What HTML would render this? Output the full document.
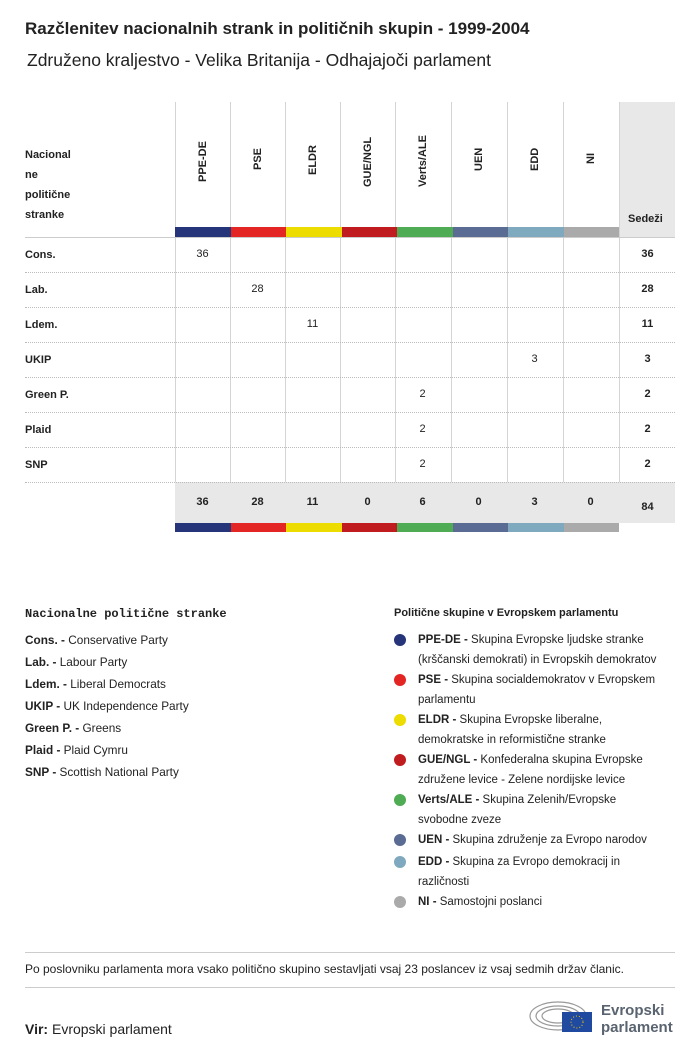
<!DOCTYPE html><html><head><meta charset="utf-8"><style>
body{margin:0;width:700px;height:1055px;background:#fff;font-family:"Liberation Sans",sans-serif;color:#222;position:relative;overflow:hidden}
.a{position:absolute}
.b{font-weight:bold}
.vl{position:absolute;width:1px;background:#d4d4d4}
.hl{position:absolute;height:0;border-top:1px dotted #bbb;left:25px;width:650px}
.rot{position:absolute;transform:rotate(-90deg);transform-origin:left top;font-size:11px;font-weight:bold;white-space:nowrap}
.c{position:absolute;width:55px;text-align:center;font-size:11px}
.dot{position:absolute;width:12px;height:12px;border-radius:50%;left:394px}
.lg{position:absolute;left:418px;font-size:11.5px;line-height:20px;white-space:nowrap}
.np{position:absolute;left:25px;font-size:11.8px}
</style></head><body>
<div class="a b" style="left:25px;top:19px;font-size:17px">Razčlenitev nacionalnih strank in političnih skupin - 1999-2004</div>
<div class="a" style="left:27px;top:50px;font-size:17.5px">Združeno kraljestvo - Velika Britanija - Odhajajoči parlament</div>
<div class="a" style="left:619px;top:102px;width:56px;height:135px;background:#e8e8e8"></div>
<div class="a" style="left:175px;top:482px;width:500px;height:41px;background:#e8e8e8"></div>
<div class="vl" style="left:175px;top:102px;height:380px"></div>
<div class="vl" style="left:230px;top:102px;height:380px"></div>
<div class="vl" style="left:285px;top:102px;height:380px"></div>
<div class="vl" style="left:340px;top:102px;height:380px"></div>
<div class="vl" style="left:395px;top:102px;height:380px"></div>
<div class="vl" style="left:451px;top:102px;height:380px"></div>
<div class="vl" style="left:507px;top:102px;height:380px"></div>
<div class="vl" style="left:563px;top:102px;height:380px"></div>
<div class="vl" style="left:619px;top:102px;height:380px"></div>
<div class="a b" style="left:25px;top:145px;font-size:11px;line-height:20px">Nacional<br>ne<br>politične<br>stranke</div>
<div class="a b" style="left:628px;top:213px;font-size:11px">Sedeži</div>
<div class="rot" style="left:197px;top:182px">PPE-DE</div>
<div class="rot" style="left:252px;top:170px">PSE</div>
<div class="rot" style="left:307px;top:175px">ELDR</div>
<div class="rot" style="left:362px;top:187px">GUE/NGL</div>
<div class="rot" style="left:417px;top:187px">Verts/ALE</div>
<div class="rot" style="left:473px;top:171px">UEN</div>
<div class="rot" style="left:529px;top:171px">EDD</div>
<div class="rot" style="left:585px;top:164px">NI</div>
<div class="a" style="left:175px;top:227px;width:444px;height:10px;display:flex">
<div style="flex:1;background:#263479"></div><div style="flex:1;background:#e32524"></div><div style="flex:1;background:#ecdc00"></div><div style="flex:1;background:#c01b1f"></div><div style="flex:1;background:#4fac55"></div><div style="flex:1;background:#5a6b94"></div><div style="flex:1;background:#7fa9be"></div><div style="flex:1;background:#aaa"></div></div>
<div class="a" style="left:175px;top:523px;width:444px;height:9px;display:flex">
<div style="flex:1;background:#263479"></div><div style="flex:1;background:#e32524"></div><div style="flex:1;background:#ecdc00"></div><div style="flex:1;background:#c01b1f"></div><div style="flex:1;background:#4fac55"></div><div style="flex:1;background:#5a6b94"></div><div style="flex:1;background:#7fa9be"></div><div style="flex:1;background:#aaa"></div></div>
<div class="a" style="left:25px;top:237px;width:650px;border-top:1px solid #ccc"></div>
<div class="hl" style="top:272px"></div><div class="hl" style="top:307px"></div><div class="hl" style="top:342px"></div><div class="hl" style="top:377px"></div><div class="hl" style="top:412px"></div><div class="hl" style="top:447px"></div><div class="hl" style="top:482px"></div>
<div class="a b" style="left:25px;top:248px;font-size:11px;line-height:35px;margin-top:-10px">Cons.<br>Lab.<br>Ldem.<br>UKIP<br>Green P.<br>Plaid<br>SNP</div>
<div class="c" style="left:175px;top:248px">36</div>
<div class="c" style="left:230px;top:283px">28</div>
<div class="c" style="left:285px;top:318px">11</div>
<div class="c" style="left:507px;top:353px">3</div>
<div class="c" style="left:395px;top:388px">2</div>
<div class="c" style="left:395px;top:423px">2</div>
<div class="c" style="left:395px;top:458px">2</div>
<div class="c b" style="left:620px;top:248px">36</div>
<div class="c b" style="left:620px;top:283px">28</div>
<div class="c b" style="left:620px;top:318px">11</div>
<div class="c b" style="left:620px;top:353px">3</div>
<div class="c b" style="left:620px;top:388px">2</div>
<div class="c b" style="left:620px;top:423px">2</div>
<div class="c b" style="left:620px;top:458px">2</div>
<div class="c b" style="left:175px;top:496px">36</div><div class="c b" style="left:230px;top:496px">28</div><div class="c b" style="left:285px;top:496px">11</div><div class="c b" style="left:340px;top:496px">0</div><div class="c b" style="left:395px;top:496px">6</div><div class="c b" style="left:451px;top:496px">0</div><div class="c b" style="left:507px;top:496px">3</div><div class="c b" style="left:563px;top:496px">0</div>
<div class="c b" style="left:620px;top:501px">84</div>
<div class="a b" style="left:25px;top:607px;font-size:12px;font-family:'Liberation Mono',monospace">Nacionalne politične stranke</div>
<div class="np" style="top:633px"><b>Cons. -</b> Conservative Party</div>
<div class="np" style="top:655px"><b>Lab. -</b> Labour Party</div>
<div class="np" style="top:677px"><b>Ldem. -</b> Liberal Democrats</div>
<div class="np" style="top:699px"><b>UKIP -</b> UK Independence Party</div>
<div class="np" style="top:721px"><b>Green P. -</b> Greens</div>
<div class="np" style="top:743px"><b>Plaid -</b> Plaid Cymru</div>
<div class="np" style="top:765px"><b>SNP -</b> Scottish National Party</div>
<div class="a b" style="left:394px;top:607px;font-size:11px">Politične skupine v Evropskem parlamentu</div>
<div class="dot" style="top:634px;background:#263479"></div><div class="lg" style="top:630px"><b>PPE-DE -</b> Skupina Evropske ljudske stranke<br>(krščanski demokrati) in Evropskih demokratov</div>
<div class="dot" style="top:674px;background:#e32524"></div><div class="lg" style="top:670px"><b>PSE -</b> Skupina socialdemokratov v Evropskem<br>parlamentu</div>
<div class="dot" style="top:714px;background:#ecdc00"></div><div class="lg" style="top:710px"><b>ELDR -</b> Skupina Evropske liberalne,<br>demokratske in reformistične stranke</div>
<div class="dot" style="top:754px;background:#c01b1f"></div><div class="lg" style="top:750px"><b>GUE/NGL -</b> Konfederalna skupina Evropske<br>združene levice - Zelene nordijske levice</div>
<div class="dot" style="top:794px;background:#4fac55"></div><div class="lg" style="top:790px"><b>Verts/ALE -</b> Skupina Zelenih/Evropske<br>svobodne zveze</div>
<div class="dot" style="top:834px;background:#5a6b94"></div><div class="lg" style="top:830px"><b>UEN -</b> Skupina združenje za Evropo narodov</div>
<div class="dot" style="top:856px;background:#7fa9be"></div><div class="lg" style="top:852px"><b>EDD -</b> Skupina za Evropo demokracij in<br>različnosti</div>
<div class="dot" style="top:896px;background:#aaa"></div><div class="lg" style="top:892px"><b>NI -</b> Samostojni poslanci</div>
<div class="a" style="left:25px;top:952px;width:650px;border-top:1px solid #ccc"></div>
<div class="a" style="left:25px;top:962px;font-size:12px">Po poslovniku parlamenta mora vsako politično skupino sestavljati vsaj 23 poslancev iz vsaj sedmih držav članic.</div>
<div class="a" style="left:25px;top:987px;width:650px;border-top:1px solid #ccc"></div>
<div class="a" style="left:25px;top:1021px;font-size:14px"><b>Vir:</b> Evropski parlament</div>
<svg class="a" style="left:528px;top:996px" width="70" height="36"><g fill="none" stroke="#999" stroke-width="1.2"><ellipse cx="30" cy="20" rx="28" ry="14"/><ellipse cx="30" cy="20" rx="22" ry="10"/><ellipse cx="30" cy="20" rx="16" ry="7"/></g><rect x="34" y="16" width="30" height="20" fill="#1f4aa0"/><circle cx="49" cy="26" r="6" fill="none" stroke="#fc0" stroke-dasharray="1 2"/></svg>
<div class="a b" style="left:601px;top:1002px;font-size:15px;color:#5a6470;line-height:17px">Evropski<br>parlament</div>
</body></html>
